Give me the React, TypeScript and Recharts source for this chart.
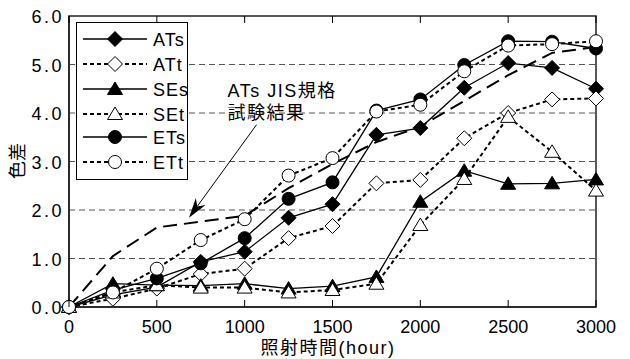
import React from "react";
import { LineChart, Line, XAxis, YAxis, ReferenceLine, ReferenceArea } from "recharts";

const hours = [0, 250, 500, 750, 1000, 1250, 1500, 1750, 2000, 2250, 2500, 2750, 3000];
const ATs = [0, 0.25, 0.41, 0.93, 1.14, 1.84, 2.12, 3.55, 3.69, 4.52, 5.03, 4.93, 4.5];
const ATt = [0, 0.17, 0.38, 0.68, 0.79, 1.42, 1.67, 2.55, 2.62, 3.48, 4.0, 4.28, 4.3];
const SEs = [0, 0.48, 0.45, 0.44, 0.48, 0.38, 0.43, 0.62, 2.17, 2.81, 2.54, 2.55, 2.63];
const SEt = [0, 0.3, 0.45, 0.4, 0.4, 0.3, 0.35, 0.48, 1.69, 2.64, 3.92, 3.2, 2.4];
const ETs = [0, 0.35, 0.59, 0.9, 1.42, 2.23, 2.57, 4.05, 4.28, 4.99, 5.48, 5.47, 5.33];
const ETt = [0, 0.3, 0.79, 1.38, 1.81, 2.71, 3.07, 4.03, 4.17, 4.86, 5.39, 5.42, 5.48];
const JIS = [0, 1.05, 1.64, 1.76, 1.88, 2.45, 2.95, 3.4, 3.72, 4.25, 4.78, 5.24, 5.36];

const xTicks = [0, 500, 1000, 1500, 2000, 2500, 3000];
const yTicks = [0, 1, 2, 3, 4, 5, 6];
const gridValues = [1, 2, 3, 4, 5];
const annotationLines = ["ATs JIS規格", "試験結果"];
const arrowFrom = { x: 1068, y: 3.76 };
const arrowTo = { x: 683, y: 1.84 };

type Marker = "diamond" | "triangle" | "circle";
const series: { key: string; marker: Marker; filled: boolean; dashed: boolean }[] = [
  { key: "ATs", marker: "diamond", filled: true, dashed: false },
  { key: "ATt", marker: "diamond", filled: false, dashed: true },
  { key: "SEs", marker: "triangle", filled: true, dashed: false },
  { key: "SEt", marker: "triangle", filled: false, dashed: true },
  { key: "ETs", marker: "circle", filled: true, dashed: false },
  { key: "ETt", marker: "circle", filled: false, dashed: true },
];
const valuesByKey: Record<string, number[]> = { ATs, ATt, SEs, SEt, ETs, ETt, JIS };

const data = hours.map((h, i) => {
  const row: Record<string, number> = { hour: h };
  Object.keys(valuesByKey).forEach((k) => (row[k] = valuesByKey[k][i]));
  return row;
});

const FONT = "'Liberation Sans', 'Noto Sans CJK JP', sans-serif";
const W = 630;
const H = 359;
const M = { top: 16, right: 34, bottom: 22, left: 19 };
const X_AXIS_H = 30;
const PLOT_TOP = M.top;
const PLOT_BOTTOM = H - M.bottom - X_AXIS_H;

function MarkerShape({ cx, cy, marker, filled }: { cx: number; cy: number; marker: Marker; filled: boolean }) {
  const fill = filled ? "#000" : "#fff";
  if (marker === "diamond") {
    const s = 7.5;
    return (
      <polygon
        points={`${cx},${cy - s} ${cx + s},${cy} ${cx},${cy + s} ${cx - s},${cy}`}
        fill={fill}
        stroke="#000"
        strokeWidth={1}
      />
    );
  }
  if (marker === "triangle") {
    return (
      <polygon
        points={`${cx},${cy - 7} ${cx + 7.5},${cy + 5.5} ${cx - 7.5},${cy + 5.5}`}
        fill={fill}
        stroke="#000"
        strokeWidth={1}
      />
    );
  }
  return <circle cx={cx} cy={cy} r={6.5} fill={fill} stroke="#000" strokeWidth={1} />;
}

const XTick = (props: any) => {
  const { x, payload } = props;
  return (
    <g>
      <line x1={x} x2={x} y1={PLOT_BOTTOM} y2={PLOT_BOTTOM - 7} stroke="#000" strokeWidth={1} />
      <line x1={x} x2={x} y1={PLOT_TOP} y2={PLOT_TOP + 7} stroke="#000" strokeWidth={1} />
      <text x={x} y={PLOT_BOTTOM + 26} textAnchor="middle" fontSize={18} fontFamily={FONT} fill="#000">
        {payload.value}
      </text>
    </g>
  );
};

const YTick = (props: any) => {
  const { y, payload } = props;
  return (
    <text x={64} y={y + 7} textAnchor="end" fontSize={18} fontFamily={FONT} fill="#000" letterSpacing={2.5}>
      {Number(payload.value).toFixed(1)}
    </text>
  );
};

const ArrowShape = (props: any) => {
  const { x1, y1, x2, y2 } = props;
  if (x1 == null) return null;
  const dx = x2 - x1;
  const dy = y2 - y1;
  const len = Math.sqrt(dx * dx + dy * dy);
  const ux = dx / len;
  const uy = dy / len;
  const hl = 20;
  const hw = 6;
  const bx = x2 - ux * hl;
  const by = y2 - uy * hl;
  const nx = -uy;
  const ny = ux;
  return (
    <g>
      <line x1={x1} y1={y1} x2={bx + ux * 6} y2={by + uy * 6} stroke="#000" strokeWidth={1} />
      <polygon
        points={`${x2},${y2} ${bx + nx * hw},${by + ny * hw} ${bx + ux * 6},${by + uy * 6} ${bx - nx * hw},${by - ny * hw}`}
        fill="#000"
      />
      {annotationLines.map((t, i) => (
        <text
          key={t}
          x={x1 - 29}
          y={y1 - 28 + i * 22}
          fontSize={18}
          fontFamily={FONT}
          letterSpacing={1.5}
          fill="#000"
        >
          {t}
        </text>
      ))}
    </g>
  );
};

function LegendBox() {
  const rowY = [17, 42, 67, 92, 115, 140];
  return (
    <svg width={113} height={159} style={{ position: "absolute", left: 76, top: 22 }}>
      <rect x={0.5} y={0.5} width={111} height={157} fill="#fff" stroke="#000" strokeWidth={1} />
      {series.map((s, i) => (
        <g key={s.key}>
          <line
            x1={7}
            x2={71}
            y1={rowY[i]}
            y2={rowY[i]}
            stroke="#000"
            strokeWidth={s.dashed ? 2 : 1.5}
            strokeDasharray={s.dashed ? "4 3" : undefined}
          />
          <MarkerShape cx={39} cy={rowY[i]} marker={s.marker} filled={s.filled} />
          <text x={77} y={rowY[i] + 7} fontSize={18} fontFamily={FONT} fill="#000" letterSpacing={1}>
            {s.key}
          </text>
        </g>
      ))}
    </svg>
  );
}

export default function App() {
  return (
    <div style={{ position: "absolute", left: 0, top: 0, width: W, height: H, background: "#fff" }}>
      <LineChart width={W} height={H} data={data} margin={M}>
        <XAxis
          type="number"
          dataKey="hour"
          domain={[0, 3000]}
          ticks={xTicks}
          interval={0}
          tick={<XTick />}
          tickLine={false}
          axisLine={{ stroke: "#000" }}
          height={X_AXIS_H}
        />
        <YAxis
          type="number"
          domain={[0, 6]}
          ticks={yTicks}
          interval={0}
          tick={<YTick />}
          tickLine={false}
          axisLine={{ stroke: "#000" }}
          width={50}
        />
        {gridValues.map((v) => (
          <ReferenceLine key={v} y={v} stroke="#555" strokeDasharray="6 4" strokeWidth={1} />
        ))}
        <ReferenceArea x1={0} x2={3000} y1={0} y2={6} fill="none" stroke="#222" strokeWidth={1.5} />
        <Line
          dataKey="JIS"
          stroke="#000"
          strokeWidth={2}
          strokeDasharray="14 7"
          dot={false}
          isAnimationActive={false}
        />
        {series.map((s) => (
          <Line
            key={s.key}
            dataKey={s.key}
            stroke="#000"
            strokeWidth={s.dashed ? 2 : 1.3}
            strokeDasharray={s.dashed ? "4 3" : undefined}
            isAnimationActive={false}
            dot={(p: any) => (
              <MarkerShape key={`${s.key}-${p.index}`} cx={p.cx} cy={p.cy} marker={s.marker} filled={s.filled} />
            )}
            activeDot={false}
          />
        ))}
        <ReferenceLine
          segment={[arrowFrom, arrowTo]}
          stroke="#000"
          shape={<ArrowShape />}
        />
      </LineChart>
      <svg width={30} height={60} style={{ position: "absolute", left: 3, top: 131 }}>
        <text
          x={15}
          y={30}
          transform="rotate(-90 15 30)"
          textAnchor="middle"
          dominantBaseline="central"
          fontSize={18}
          fontFamily={FONT}
          fill="#000"
        >
          色差
        </text>
      </svg>
      <div
        style={{
          position: "absolute",
          left: 0,
          top: 338,
          width: 2 * 328,
          textAlign: "center",
          fontSize: 18,
          fontFamily: FONT,
          lineHeight: "20px",
          letterSpacing: 1.5,
          color: "#000",
        }}
      >
        照射時間(hour)
      </div>
      <LegendBox />
    </div>
  );
}
